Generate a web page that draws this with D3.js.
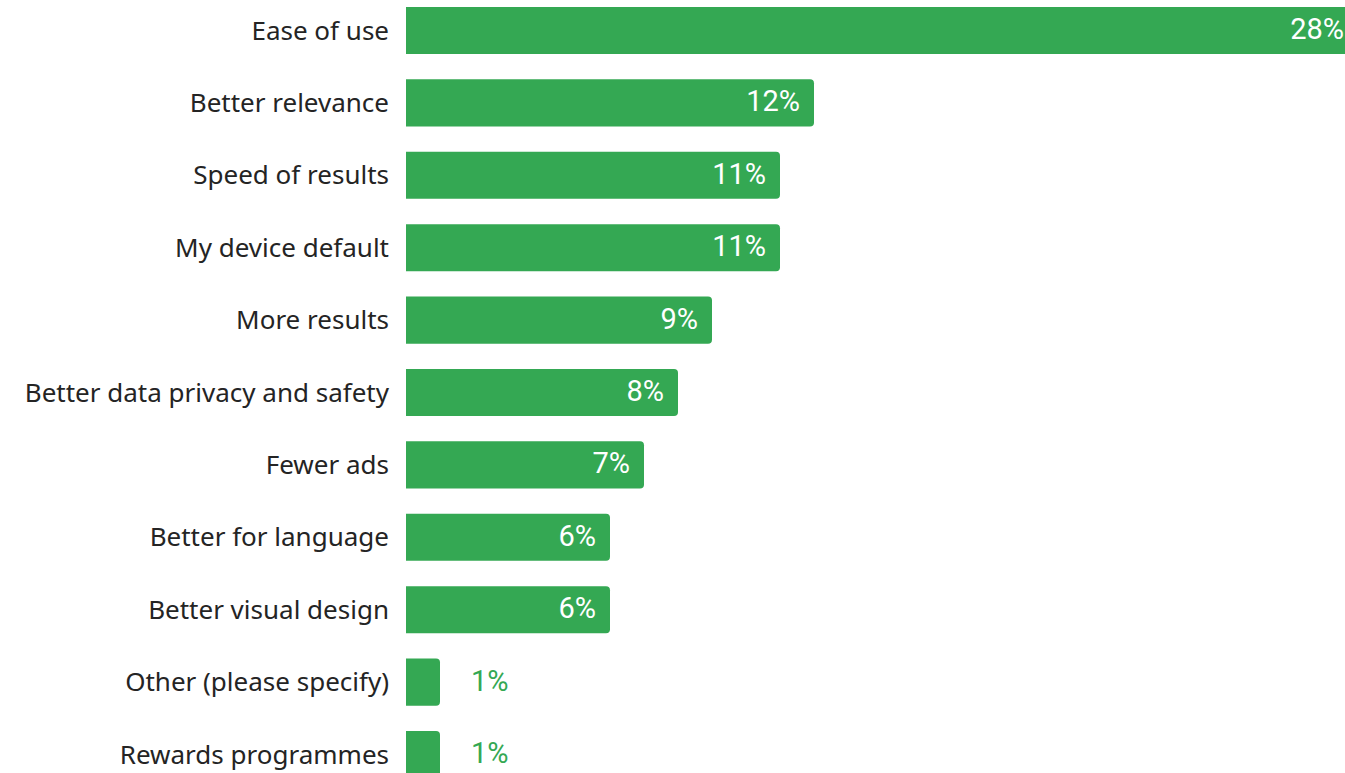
<!DOCTYPE html>
<html>
<head>
<meta charset="utf-8">
<script src="https://cdn.jsdelivr.net/npm/d3@7"></script>
<style>
  html, body { margin: 0; padding: 0; background: #fff; overflow: hidden; }
  svg { display: block; }
</style>
</head>
<body>
<svg id="chart" width="1345" height="773"></svg>
<script>
// Reasons for choosing a search engine (share of respondents, %)
const categories = [
  "Ease of use",
  "Better relevance",
  "Speed of results",
  "My device default",
  "More results",
  "Better data privacy and safety",
  "Fewer ads",
  "Better for language",
  "Better visual design",
  "Other (please specify)",
  "Rewards programmes"
];
const values = [28, 12, 11, 11, 9, 8, 7, 6, 6, 1, 1];

const data = categories.map((c, i) => ({ category: c, value: values[i] }));

const svg = d3.select("#chart");
const green = "#34a853";
const labelFont = "'Noto Sans', 'Open Sans', sans-serif";
const valueFont = "Roboto, 'Noto Sans', sans-serif";

const x = d3.scaleLinear().domain([0, 28]).range([406, 1358]);
const y = d3.scaleBand()
  .domain(categories)
  .range([-5.7, 790.7])
  .paddingInner(0.35)
  .paddingOuter(0.175);

// Category axis on the left, no line or ticks
const yAxis = d3.axisLeft(y).tickSize(0).tickPadding(17);
const axisG = svg.append("g")
  .attr("transform", `translate(${x(0)},0)`)
  .call(yAxis);
axisG.select(".domain").remove();
axisG.selectAll("text")
  .attr("fill", "#242424")
  .attr("dy", "0.35em")
  .style("font-family", labelFont)
  .style("font-size", "26px");

// Bars with rounded right end only
function barPath(x0, x1, y0, h, r) {
  const rr = Math.min(r, (x1 - x0) / 2, h / 2);
  return `M${x0},${y0}H${x1 - rr}Q${x1},${y0} ${x1},${y0 + rr}` +
         `V${y0 + h - rr}Q${x1},${y0 + h} ${x1 - rr},${y0 + h}H${x0}Z`;
}

const rows = svg.append("g").selectAll("g")
  .data(data)
  .join("g");

rows.append("path")
  .attr("d", d => barPath(x(0), x(d.value), y(d.category), y.bandwidth(), 4))
  .attr("fill", green);

const fmt = d => d3.format("d")(d) + "%";
const inside = d => x(d.value) - x(0) > 60;

rows.append("text")
  .attr("x", d => inside(d) ? x(d.value) - 14 : x(d.value) + 31)
  .attr("y", d => y(d.category) + y.bandwidth() / 2)
  .attr("dy", "0.29em")
  .attr("text-anchor", d => inside(d) ? "end" : "start")
  .attr("fill", d => inside(d) ? "#fff" : green)
  .style("font-family", valueFont)
  .style("font-size", "29px")
  .text(d => fmt(d.value));
</script>
</body>
</html>
